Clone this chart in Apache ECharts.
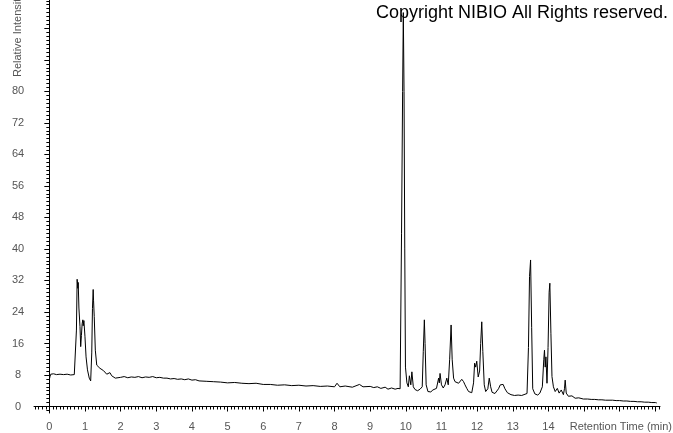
<!DOCTYPE html>
<html>
<head>
<meta charset="utf-8">
<script src="https://cdn.jsdelivr.net/npm/echarts@6/dist/echarts.min.js"></script>
<style>
html,body{margin:0;padding:0;background:#fff;}
#chart{width:673px;height:433px;}
</style>
</head>
<body>
<div id="chart"></div>
<script>
// Retention time (min)
var times = [
0.00,0.02,0.04,0.08,0.12,0.16,0.20,0.25,0.30,0.35,0.40,0.45,0.50,0.55,0.60,0.65,0.70,0.74,
0.76,0.78,0.80,0.81,0.83,0.86,0.88,0.90,0.92,0.94,0.95,0.97,1.00,1.03,1.07,1.12,1.16,
1.19,1.21,1.23,1.24,1.26,1.29,1.33,1.38,1.42,1.47,1.52,1.57,1.61,1.66,1.70,1.75,1.80,1.85,1.90,
2.0,2.1,2.2,2.3,2.4,2.5,2.6,2.7,2.8,2.9,3.0,3.1,3.2,3.3,3.4,3.5,3.6,3.7,3.8,3.9,4.0,4.1,4.2,
4.4,4.6,4.8,5.0,5.2,5.4,5.6,5.8,6.0,6.2,6.4,6.6,6.8,7.0,7.2,7.4,7.6,7.8,8.0,8.07,8.15,8.3,8.5,
8.7,8.8,9.0,9.1,9.2,9.3,9.42,9.5,9.6,9.7,9.78,9.84,9.87,9.88,9.91,9.93,9.95,9.97,9.99,
10.03,10.07,10.10,10.14,10.17,10.21,10.26,10.33,10.40,10.46,10.49,10.52,10.54,10.57,10.62,10.70,
10.76,10.86,10.92,10.94,10.96,11.00,11.05,11.10,11.15,11.19,11.23,11.27,11.30,11.34,11.38,11.43,
11.48,11.53,11.57,11.62,11.66,11.71,11.76,11.85,11.90,11.93,11.96,11.99,12.03,12.07,12.10,12.13,
12.16,12.20,12.24,12.30,12.34,12.38,12.42,12.50,12.55,12.60,12.65,12.69,12.73,12.78,12.85,12.95,
13.05,13.15,13.25,13.30,13.40,13.44,13.47,13.50,13.53,13.56,13.62,13.70,13.76,13.83,13.87,13.89,
13.91,13.93,13.96,13.99,14.02,14.04,14.07,14.10,14.14,14.19,14.25,14.30,14.36,14.42,14.45,14.47,
14.50,14.56,14.66,14.75,14.85,14.98,15.1,15.2,15.3,15.4,15.5,15.6,15.7,15.8,15.9,16.0,16.1,16.2,
16.3,16.4,16.5,16.6,16.7,16.8,16.9,17.0,17.04
];
// Relative intensity
var intensities = [
6.9,7.6,8.2,8.0,8.3,7.9,8.1,7.8,8.2,7.9,8.1,7.8,8.2,7.7,8.0,7.9,8.1,8.0,
19.4,32.3,30.0,31.5,25.0,20.3,15.2,18.0,21.0,22.0,20.5,21.8,17.7,12.6,9.3,7.2,6.5,
13.6,24.9,29.7,27.0,22.8,14.3,10.5,10.0,9.7,9.3,9.1,8.8,8.2,8.7,8.6,7.8,7.6,7.2,7.5,
7.4,7.6,7.3,7.5,7.4,7.6,7.3,7.5,7.4,7.6,7.3,7.4,7.2,7.2,7.0,7.1,6.9,7.0,6.8,7.0,6.7,6.8,6.5,
6.4,6.3,6.2,6.0,6.1,5.9,5.8,5.9,5.6,5.6,5.4,5.5,5.3,5.4,5.2,5.3,5.1,5.2,5.0,5.9,5.0,5.2,4.9,
5.6,5.0,5.1,4.8,5.0,4.6,4.9,4.4,4.7,4.4,4.6,4.5,5.0,44,80,100,80,40,10,
6.0,5.0,7.8,5.5,8.8,5.0,4.3,4.0,4.4,5.0,14,22.0,16,5.5,3.8,3.7,
4.2,4.6,7.2,6.0,8.4,5.5,4.7,5.5,7.2,5.5,12,20.7,12,7.2,6.3,6.6,
5.9,6.2,6.9,6.3,5.5,4.6,3.8,3.5,6.0,11.0,10.0,11.5,7.5,9.0,16,21.5,
14,5.5,3.8,4.5,7.2,5.0,3.6,3.3,3.4,4.5,5.5,5.0,5.6,4.5,3.5,3.0,
2.8,2.9,2.8,3.1,3.3,15,33,37.2,20,4.5,3.2,2.9,3.4,5.0,12,14.3,
10,12.6,5.9,15,29,31.3,18.6,7.6,5.0,3.8,4.6,3.4,4.2,3.0,4.5,6.7,
3.4,2.6,2.7,2.1,2.2,1.9,1.9,1.8,1.8,1.7,1.7,1.6,1.6,1.6,1.5,1.5,1.4,1.4,
1.3,1.3,1.2,1.2,1.1,1.1,1.0,1.0,0.9
];
var xTickLabels = [0,1,2,3,4,5,6,7,8,9,10,11,12,13,14];
var yTickLabels = [0,8,16,24,32,40,48,56,64,72,80];

var xMajor = [], xMinor = [], yMajor = [], yMinor = [];
for (var i = 0; i <= 17; i++) xMajor.push(i);
for (var j = -4; j <= 171; j++) xMinor.push(Math.round(j) / 10);
for (var k = 0; k <= 96; k += 8) yMajor.push(k);
for (var m = -1; m <= 103; m++) yMinor.push(m);

var data = times.map(function (t, i) { return [t, intensities[i]]; });

var labelStyle = { color: '#555', fontSize: 11, fontFamily: 'Liberation Sans, Arial, sans-serif' };
var chart = echarts.init(document.getElementById('chart'), null, { renderer: 'canvas' });
chart.setOption({
  animation: false,
  backgroundColor: '#fff',
  grid: { left: 34, right: 13, top: 0, bottom: 20, containLabel: false },
  xAxis: [{
    type: 'value', min: -0.43, max: 17.13, position: 'bottom',
    axisLine: { show: true, lineStyle: { color: '#000', width: 1 } },
    axisTick: { show: true, length: 5, customValues: xMajor, lineStyle: { color: '#000' } },
    axisLabel: Object.assign({ margin: 8, customValues: xTickLabels }, labelStyle),
    splitLine: { show: false }
  }, {
    type: 'value', min: -0.43, max: 17.13, position: 'bottom', gridIndex: 0,
    axisLine: { show: false },
    axisTick: { show: true, length: 3, customValues: xMinor, lineStyle: { color: '#000' } },
    axisLabel: { show: false },
    splitLine: { show: false }
  }],
  yAxis: [{
    type: 'value', min: -1.65, max: 103.2, position: 'left',
    axisLine: { show: true, lineStyle: { color: '#000', width: 1 } },
    axisTick: { show: true, length: 5, customValues: yMajor, lineStyle: { color: '#000' } },
    axisLabel: Object.assign({ margin: 16, align: 'center', customValues: yTickLabels }, labelStyle),
    splitLine: { show: false }
  }, {
    type: 'value', min: -1.65, max: 103.2, position: 'left', gridIndex: 0,
    axisLine: { show: false },
    axisTick: { show: true, length: 3, customValues: yMinor, lineStyle: { color: '#000' } },
    axisLabel: { show: false },
    splitLine: { show: false }
  }],
  series: [{
    type: 'line', xAxisIndex: 0, yAxisIndex: 0, data: data,
    showSymbol: false, symbol: 'none',
    lineStyle: { color: '#000', width: 1 },
    clip: true
  }],
  graphic: [{
    type: 'text', left: 376, top: 4, z: 100,
    style: { text: 'Copyright NIBIO All Rights reserved.', fill: '#000', fontSize: 18,
             fontFamily: 'Liberation Sans, Arial, sans-serif' }
  }, {
    type: 'text', x: 18, y: 77, rotation: Math.PI / 2, z: 100,
    style: { text: 'Relative Intensity', fill: '#555', fontSize: 11, align: 'left', verticalAlign: 'middle',
             fontFamily: 'Liberation Sans, Arial, sans-serif' }
  }, {
    type: 'text', x: 672, y: 427, z: 100,
    style: { text: 'Retention Time (min)', fill: '#555', fontSize: 11, align: 'right', verticalAlign: 'middle',
             fontFamily: 'Liberation Sans, Arial, sans-serif' }
  }]
});
</script>
</body>
</html>
